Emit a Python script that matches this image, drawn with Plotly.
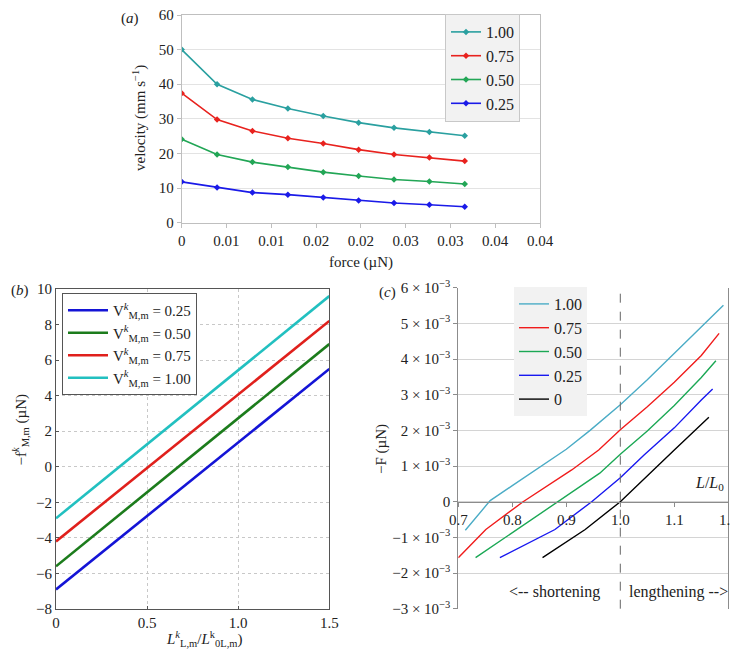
import plotly.graph_objects as go

W, H = 738, 652
OFF = 8  # default page margin of the HTML body
FW, FH = W - OFF, H - OFF
SERIF = "Liberation Serif, Times New Roman, serif"

# ---------------- data ----------------
# (a) velocity vs force
force_a = [0, 0.00395, 0.0079, 0.01185, 0.0158, 0.01975, 0.0237, 0.02765, 0.0316]
vel_100 = [50.0, 40.0, 35.6, 33.0, 30.8, 28.9, 27.4, 26.2, 25.1]
vel_075 = [37.4, 29.8, 26.5, 24.4, 22.9, 21.1, 19.7, 18.8, 17.8]
vel_050 = [24.1, 19.7, 17.5, 16.1, 14.6, 13.5, 12.5, 11.9, 11.2]
vel_025 = [11.8, 10.2, 8.7, 8.1, 7.3, 6.4, 5.7, 5.2, 4.6]
labels_a = ["1.00", "0.75", "0.50", "0.25"]
xtick_vals_a = [0, 0.005, 0.01, 0.015, 0.02, 0.025, 0.03, 0.035, 0.04]
xtick_text_a = ["0", "0.01", "0.01", "0.02", "0.02", "0.03", "0.03", "0.04", "0.04"]

# (b) force vs length ratio
ratio_b = [0, 1.5]
fm_025 = [-6.9, 5.5]
fm_050 = [-5.6, 6.9]
fm_075 = [-4.2, 8.2]
fm_100 = [-2.9, 9.6]
labels_b = ["0.25", "0.50", "0.75", "1.00"]

# (c) -F (units of 1e-3 µN) vs L/L0
x_c_100 = [0.713, 0.759, 0.80, 0.856, 0.90, 0.944, 1.0, 1.05, 1.10, 1.15, 1.191]
y_c_100 = [-0.80, 0.03, 0.45, 1.03, 1.47, 2.0, 2.72, 3.42, 4.17, 4.92, 5.51]
x_c_075 = [0.70, 0.751, 0.82, 0.91, 0.96, 1.0, 1.05, 1.10, 1.15, 1.183]
y_c_075 = [-1.57, -0.78, 0.0, 0.89, 1.45, 2.02, 2.66, 3.35, 4.10, 4.72]
x_c_050 = [0.732, 0.80, 0.886, 0.962, 1.0, 1.05, 1.10, 1.15, 1.177]
y_c_050 = [-1.57, -0.87, 0.0, 0.80, 1.33, 1.98, 2.70, 3.48, 3.95]
x_c_025 = [0.777, 0.879, 0.947, 1.0, 1.044, 1.10, 1.15, 1.171]
y_c_025 = [-1.57, -0.78, 0.0, 0.67, 1.31, 2.07, 2.85, 3.16]
x_c_000 = [0.856, 0.935, 1.0, 1.046, 1.10, 1.164]
y_c_000 = [-1.57, -0.78, 0.0, 0.68, 1.45, 2.37]
labels_c = ["1.00", "0.75", "0.50", "0.25", "0"]
ytick_vals_c = [-3, -2, -1, 0, 1, 2, 3, 4, 5, 6]
ytick_text_c = ["\u22123 \u00d7 10<sup>\u22123</sup>", "\u22122 \u00d7 10<sup>\u22123</sup>",
                "\u22121 \u00d7 10<sup>\u22123</sup>", "0",
                "1 \u00d7 10<sup>\u22123</sup>", "2 \u00d7 10<sup>\u22123</sup>",
                "3 \u00d7 10<sup>\u22123</sup>", "4 \u00d7 10<sup>\u22123</sup>",
                "5 \u00d7 10<sup>\u22123</sup>", "6 \u00d7 10<sup>\u22123</sup>"]
SCALE_C = 1e-3


def px(x):
    return (x - OFF) / FW


def py(y):
    return 1 - (y - OFF) / FH


A_X = [px(181.7), px(540)]
A_Y = [py(222.7), py(15)]
B_X = [px(56), px(329.3)]
B_Y = [py(609), py(289)]
C_X = [px(458.3), px(728.3)]
C_Y = [py(608.7), py(287.7)]

fig = go.Figure()

# ---- (a)
cols_a = ["#2aa0a0", "#e8221e", "#22a656", "#1a1ae8"]
for lab, yv, c in zip(labels_a, [vel_100, vel_075, vel_050, vel_025], cols_a):
    fig.add_trace(go.Scatter(x=force_a, y=yv, name=lab, mode="lines+markers",
                             line=dict(color=c, width=1.6),
                             marker=dict(symbol="diamond", size=5, color=c),
                             xaxis="x", yaxis="y", legend="legend"))

# ---- (b)
cols_b = ["#1414d6", "#1c7c1c", "#e0201c", "#22c0c0"]
for lab, yv, c in zip(labels_b, [fm_025, fm_050, fm_075, fm_100], cols_b):
    fig.add_trace(go.Scatter(x=ratio_b, y=yv,
                             name="V<sup><i>k</i></sup><sub>M,m</sub> = " + lab,
                             mode="lines", line=dict(color=c, width=2.6),
                             xaxis="x2", yaxis="y2", legend="legend2"))

# ---- (c)
cols_c = ["#4bacc6", "#f01c1c", "#1ba855", "#1818f0", "#000000"]
xs_c = [x_c_100, x_c_075, x_c_050, x_c_025, x_c_000]
ys_c = [y_c_100, y_c_075, y_c_050, y_c_025, y_c_000]
for lab, xv, yv, c in zip(labels_c, xs_c, ys_c, cols_c):
    fig.add_trace(go.Scatter(x=xv, y=[v * SCALE_C for v in yv], name=lab, mode="lines",
                             line=dict(color=c, width=1.4),
                             xaxis="x3", yaxis="y3", legend="legend3"))

tickfont = dict(family=SERIF, size=15, color="#222")
common = dict(automargin=False, ticklabeloverflow="allow", zeroline=False, tickfont=tickfont)

fig.update_layout(
    template="none",
    width=FW, height=FH, margin=dict(l=0, r=0, t=0, b=0, pad=0), autosize=False,
    paper_bgcolor="white", plot_bgcolor="white",
    font=dict(family=SERIF, size=15, color="#222"),
    # (a)
    xaxis=dict(domain=A_X, anchor="y", range=[0, 0.04], tickvals=xtick_vals_a, ticktext=xtick_text_a,
               showgrid=False, showline=True, linecolor="#bfbfbf", mirror=True,
               ticks="outside", ticklen=4, tickcolor="#bfbfbf", **common),
    yaxis=dict(domain=A_Y, anchor="x", range=[0, 60], dtick=10, showgrid=True, gridcolor="#e3e3e3",
               showline=True, linecolor="#bfbfbf", mirror=True, ticks="outside", ticklen=4,
               tickcolor="#bfbfbf", **common),
    # (b)
    xaxis2=dict(domain=B_X, anchor="y2", range=[0, 1.5], tickvals=[0, 0.5, 1.0, 1.5],
                ticktext=["0", "0.5", "1.0", "1.5"], showgrid=True, gridcolor="#c8c8c8", griddash="dot",
                showline=True, linecolor="#555", linewidth=1, mirror=True, ticks="inside", ticklen=3,
                tickcolor="#555", **common),
    yaxis2=dict(domain=B_Y, anchor="x2", range=[-8, 10], dtick=2, showgrid=True, gridcolor="#c8c8c8",
                griddash="dot", showline=True, linecolor="#555", linewidth=1, mirror=True,
                ticks="inside", ticklen=3, tickcolor="#555", **common),
    # (c)
    xaxis3=dict(domain=C_X, anchor="free", position=C_Y[0] + (C_Y[1] - C_Y[0]) / 3,
                range=[0.7, 1.2], tickvals=[0.7, 0.8, 0.9, 1.0, 1.1, 1.2],
                ticktext=["0.7", "0.8", "0.9", "1.0", "1.1", "1.2"], showgrid=False,
                showline=True, linecolor="#8c8c8c", ticks="outside", ticklen=4, tickcolor="#8c8c8c",
                **common),
    yaxis3=dict(domain=C_Y, anchor="x3", range=[-3e-3, 6e-3], tickvals=[v * SCALE_C for v in ytick_vals_c],
                ticktext=ytick_text_c, showgrid=True, gridcolor="#d4d4d4", showline=True,
                linecolor="#8c8c8c", mirror=True, ticks="outside", ticklen=4, tickcolor="#8c8c8c",
                **common),
    legend=dict(x=px(445), y=py(14), xanchor="left", yanchor="top", bgcolor="#f2f2f2",
                bordercolor="#c8c8c8", borderwidth=1, font=dict(family=SERIF, size=16),
                itemwidth=30, tracegroupgap=0),
    legend2=dict(x=px(62), y=py(293), xanchor="left", yanchor="top", bgcolor="white",
                 bordercolor="#555", borderwidth=1, font=dict(family=SERIF, size=15), itemwidth=40),
    legend3=dict(x=px(514), y=py(287), xanchor="left", yanchor="top", bgcolor="#f2f2f2",
                 borderwidth=0, font=dict(family=SERIF, size=16), itemwidth=30),
    showlegend=True,
)

# dashed vertical line at L/L0 = 1 in (c)
fig.add_shape(type="line", xref="x3", yref="y3 domain", x0=1.0, x1=1.0, y0=0, y1=1,
              line=dict(color="#666", width=1, dash="dash"))

ann = []
def add(text, x, y, size=15, angle=0, xanchor="center", yanchor="middle"):
    ann.append(dict(text=text, x=x, y=y, xref="paper", yref="paper", showarrow=False,
                    textangle=angle, xanchor=xanchor, yanchor=yanchor,
                    font=dict(family=SERIF, size=size, color="#222")))

add("(<i>a</i>)", px(130), py(8.5), yanchor="top")
add("force (µN)", px(361), py(262))
add("velocity (mm s<sup>\u22121</sup>)", px(140), py(118), angle=-90)
add("(<i>b</i>)", px(8.5), py(290), xanchor="left")
add("\u2212f<sup><i>k</i></sup><sub>M,m</sub> (µN)", px(8.5), py(430), angle=-90, xanchor="left")
add("<i>L</i><sup><i>k</i></sup><sub>L,m</sub>/<i>L</i><sup>k</sup><sub>0L,m</sub>)", px(204), py(651),
    yanchor="bottom")
add("(<i>c</i>)", px(387), py(292))
add("\u2212F (µN)", px(381), py(449), angle=-90)
fig.update_layout(annotations=ann)

fig.add_annotation(text="<i>L</i>/<i>L</i><sub>0</sub>", x=1.195, y=0.5e-3, xref="x3", yref="y3",
                   showarrow=False, xanchor="right", font=dict(family=SERIF, size=16, color="#222"))
fig.add_annotation(text="<-- shortening", x=0.879, y=-2.52e-3, xref="x3", yref="y3",
                   showarrow=False, font=dict(family=SERIF, size=16, color="#222"))
fig.add_annotation(text="lengthening -->", x=1.107, y=-2.52e-3, xref="x3", yref="y3",
                   showarrow=False, font=dict(family=SERIF, size=16, color="#222"))

fig.write_html("out.html")
